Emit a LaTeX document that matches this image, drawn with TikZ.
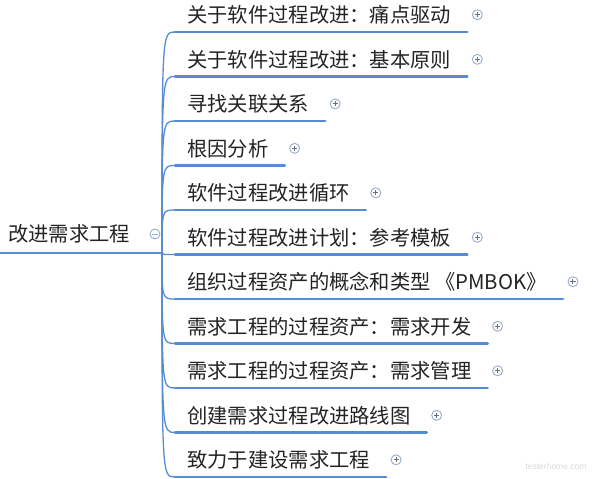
\documentclass[tikz,border=0pt]{standalone}
\usepackage{fontspec}
\setmainfont{Noto Sans CJK SC}
\newfontfamily\wmfont{Liberation Sans}
\usepackage{tikz}

\definecolor{mapblue}{RGB}{86,140,212}
\definecolor{iconblue}{RGB}{150,172,210}
\definecolor{inkgray}{RGB}{35,35,35}

\tikzset{
  topic/.style={anchor=base west, inner sep=0pt, text=inkgray,
    font=\fontsize{20.3}{22}\selectfont},
  underline/.style={draw=mapblue, line width=2.8pt, line cap=round},
  branch/.style={draw=mapblue, line width=1.3pt},
  collapseicon/.style={circle, draw=iconblue, fill=white, line width=0.9pt,
    minimum size=10pt, inner sep=0pt,
    path picture={\draw[line width=1pt, iconblue]
      ([xshift=-2.6pt]path picture bounding box.center) --
      ([xshift=2.6pt]path picture bounding box.center);}},
  expandicon/.style={collapseicon,
    path picture={\draw[line width=1pt, inkgray!65]
      ([xshift=-2.6pt]path picture bounding box.center) --
      ([xshift=2.6pt]path picture bounding box.center)
      ([yshift=-2.6pt]path picture bounding box.center) --
      ([yshift=2.6pt]path picture bounding box.center);}}
}

\begin{document}
\begin{tikzpicture}[x=1pt, y=-1pt]
                \useasboundingbox (0,0) rectangle (592,479);

                % Nodes
                \node[topic] (root) at (8,241.5) {改进需求工程};
                \coordinate (rl) at (0,253);
                \coordinate (rr) at (145,253);
                \coordinate (o) at (162,253);
                \node[collapseicon] (m) at (155,234) {};

                \node[topic] (b1) at (187,22.5) {关于软件过程改进：痛点驱动};
                \node[topic] (b2) at (187,67) {关于软件过程改进：基本原则};
                \node[topic] (b3) at (187,111.5) {寻找关联关系};
                \node[topic] (b4) at (187,156) {根因分析};
                \node[topic] (b5) at (187,200.5) {软件过程改进循环};
                \node[topic] (b6) at (187,245) {软件过程改进计划：参考模板};
                \node[topic] (b7) at (187,289.5) {组织过程资产的概念和类型 《PMBOK》};
                \node[topic] (b8) at (187,334) {需求工程的过程资产：需求开发};
                \node[topic] (b9) at (187,378.5) {需求工程的过程资产：需求管理};
                \node[topic] (b10) at (187,423) {创建需求过程改进路线图};
                \node[topic] (b11) at (187,467.5) {致力于建设需求工程};

                \coordinate (j1) at (175,32);
                \coordinate (j2) at (175,76.5);
                \coordinate (j3) at (175,121);
                \coordinate (j4) at (175,165.5);
                \coordinate (j5) at (175,210);
                \coordinate (j6) at (175,254.5);
                \coordinate (j7) at (175,299);
                \coordinate (j8) at (175,343.5);
                \coordinate (j9) at (175,388);
                \coordinate (j10) at (175,432.5);
                \coordinate (j11) at (175,477);

                \node[expandicon] (p1) at ([xshift=26pt]b1.east) {};
                \node[expandicon] (p2) at ([xshift=26pt]b2.east) {};
                \node[expandicon] (p3) at ([xshift=26pt]b3.east) {};
                \node[expandicon] (p4) at ([xshift=26pt]b4.east) {};
                \node[expandicon] (p5) at ([xshift=26pt]b5.east) {};
                \node[expandicon] (p6) at ([xshift=26pt]b6.east) {};
                \node[expandicon] (p7) at ([xshift=26pt]b7.east) {};
                \node[expandicon] (p8) at ([xshift=26pt]b8.east) {};
                \node[expandicon] (p9) at ([xshift=26pt]b9.east) {};
                \node[expandicon] (p10) at ([xshift=26pt]b10.east) {};
                \node[expandicon] (p11) at ([xshift=26pt]b11.east) {};

                \node[text=gray!30, font=\wmfont\fontsize{8.5}{10}\selectfont] (wm) at (556,466) {testerhome.com};

                % Edges
                \draw[underline] (rl) -- (rr);
                \draw[branch] (rr) -- (o);
                \draw[branch] (o) .. controls (o |- j1) .. (j1);
                \draw[branch] (o) .. controls (o |- j2) .. (j2);
                \draw[branch] (o) .. controls (o |- j3) .. (j3);
                \draw[branch] (o) .. controls (o |- j4) .. (j4);
                \draw[branch] (o) .. controls (o |- j5) .. (j5);
                \draw[branch] (o) .. controls (o |- j6) .. (j6);
                \draw[branch] (o) .. controls (o |- j7) .. (j7);
                \draw[branch] (o) .. controls (o |- j8) .. (j8);
                \draw[branch] (o) .. controls (o |- j9) .. (j9);
                \draw[branch] (o) .. controls (o |- j10) .. (j10);
                \draw[branch] (o) .. controls (o |- j11) .. (j11);

                \draw[underline] (j1) -- ([xshift=16pt]b1.east |- j1);
                \draw[underline] (j2) -- ([xshift=16pt]b2.east |- j2);
                \draw[underline] (j3) -- ([xshift=16pt]b3.east |- j3);
                \draw[underline] (j4) -- ([xshift=16pt]b4.east |- j4);
                \draw[underline] (j5) -- ([xshift=16pt]b5.east |- j5);
                \draw[underline] (j6) -- ([xshift=16pt]b6.east |- j6);
                \draw[underline] (j7) -- ([xshift=16pt]b7.east |- j7);
                \draw[underline] (j8) -- ([xshift=16pt]b8.east |- j8);
                \draw[underline] (j9) -- ([xshift=16pt]b9.east |- j9);
                \draw[underline] (j10) -- ([xshift=16pt]b10.east |- j10);
                \draw[underline] (j11) -- ([xshift=16pt]b11.east |- j11);
            \end{tikzpicture}
\end{document}
